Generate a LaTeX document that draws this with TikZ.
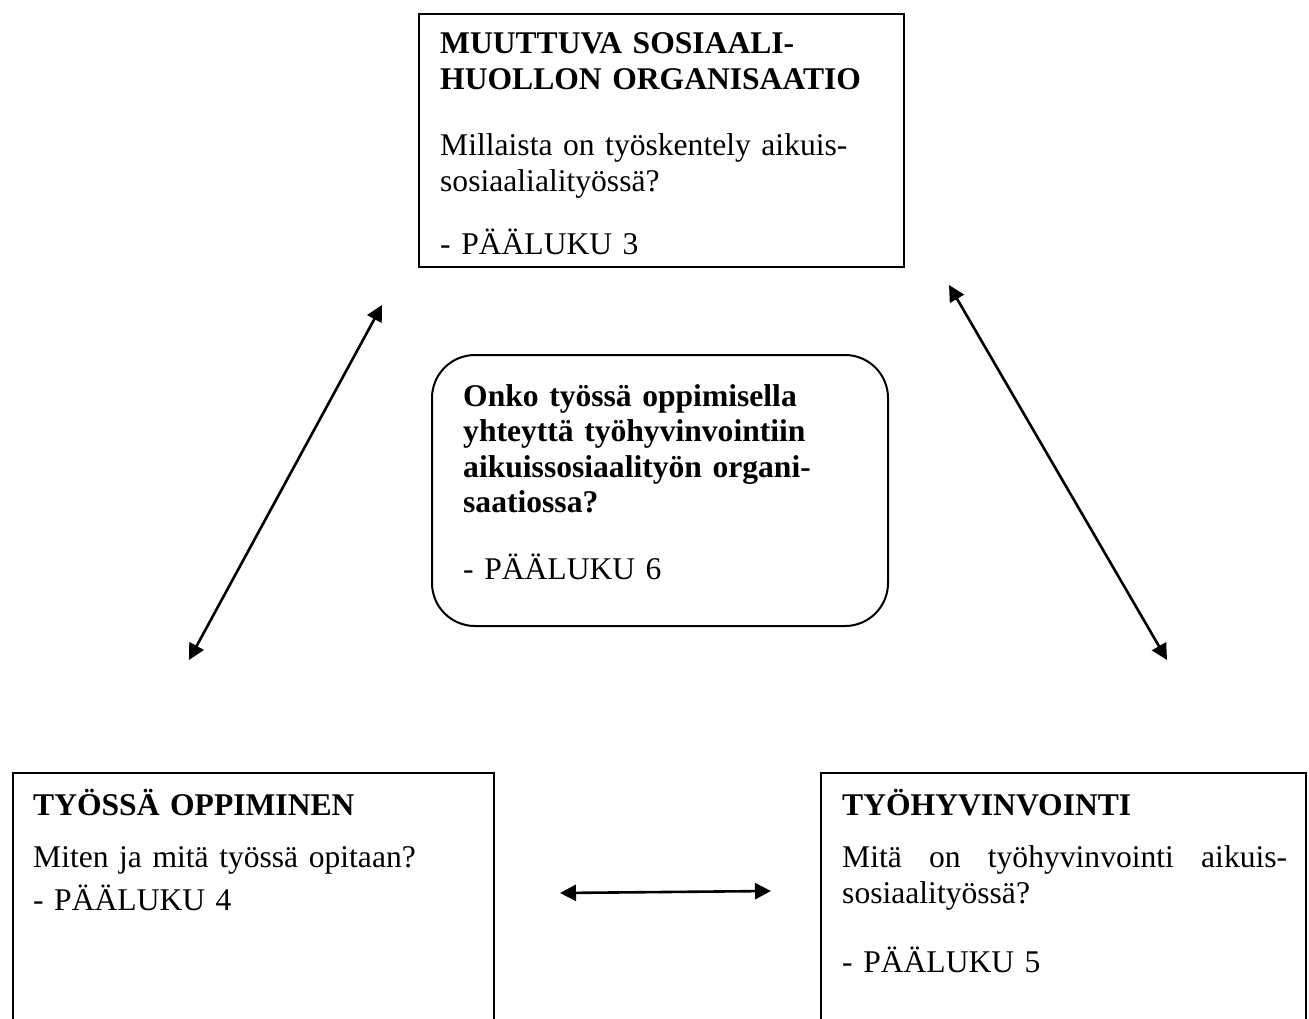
\documentclass[tikz,border=0pt]{standalone}
\usepackage{fontspec}
\setmainfont{Liberation Serif}
\usetikzlibrary{arrows.meta}

\begin{document}
\begin{tikzpicture}[x=1pt,y=-1pt,
  frame/.style={draw, line width=2pt, anchor=north west, inner sep=0pt},
  txt/.style={anchor=base west, inner sep=0pt, align=left, text width=460pt,
    font=\fontsize{31.6}{35.5}\selectfont},
  link/.style={line width=2.6pt,
    {Triangle[length=16pt,width=16pt]}-{Triangle[length=16pt,width=16pt]}}]
\clip (0,0) rectangle (1309,1019);

% frames
\node[frame, minimum width=485pt, minimum height=253pt] (org) at (418,13) {};
\node[frame, rounded corners=43pt, minimum width=456pt, minimum height=271pt] (quest) at (431,354) {};
\node[frame, minimum width=481pt, minimum height=300pt] (learn) at (12,772) {};
\node[frame, minimum width=485pt, minimum height=300pt] (well) at (820,772) {};

% texts
\node[txt] (orgtext) at (440,54) {\textbf{MUUTTUVA SOSIAALI-}\\\textbf{HUOLLON ORGANISAATIO}\\[31pt]
  Millaista on työskentely aikuis-\\sosiaalialityössä?\\[28pt]- PÄÄLUKU 3};
\node[txt] (questtext) at (463,406) {\textbf{Onko työssä oppimisella}\\\textbf{yhteyttä työhyvinvointiin}\\
  \textbf{aikuissosiaalityön organi-}\\\textbf{saatiossa?}\\[31pt]- PÄÄLUKU 6};
\node[txt] (learntext) at (33,815) {\textbf{TYÖSSÄ OPPIMINEN}\\[17pt]
  Miten ja mitä työssä opitaan?\\[7pt]- PÄÄLUKU 4};
\node[txt] (welltext) at (842,815) {\textbf{TYÖHYVINVOINTI}\\[17pt]
  \leavevmode\hbox to 445pt{Mitä\hfill on\hfill työhyvinvointi\hfill aikuis-}\\sosiaalityössä?\\[34pt]- PÄÄLUKU 5};

% connector end points
\coordinate (a1) at (382,305);
\coordinate (a2) at (189,660);
\coordinate (b1) at (949,285);
\coordinate (b2) at (1167,660);
\coordinate (c1) at (560,893);
\coordinate (c2) at (771,891);

\draw[link] (a2) -- (a1);
\draw[link] (b1) -- (b2);
\draw[link] (c1) -- (c2);
\end{tikzpicture}
\end{document}
